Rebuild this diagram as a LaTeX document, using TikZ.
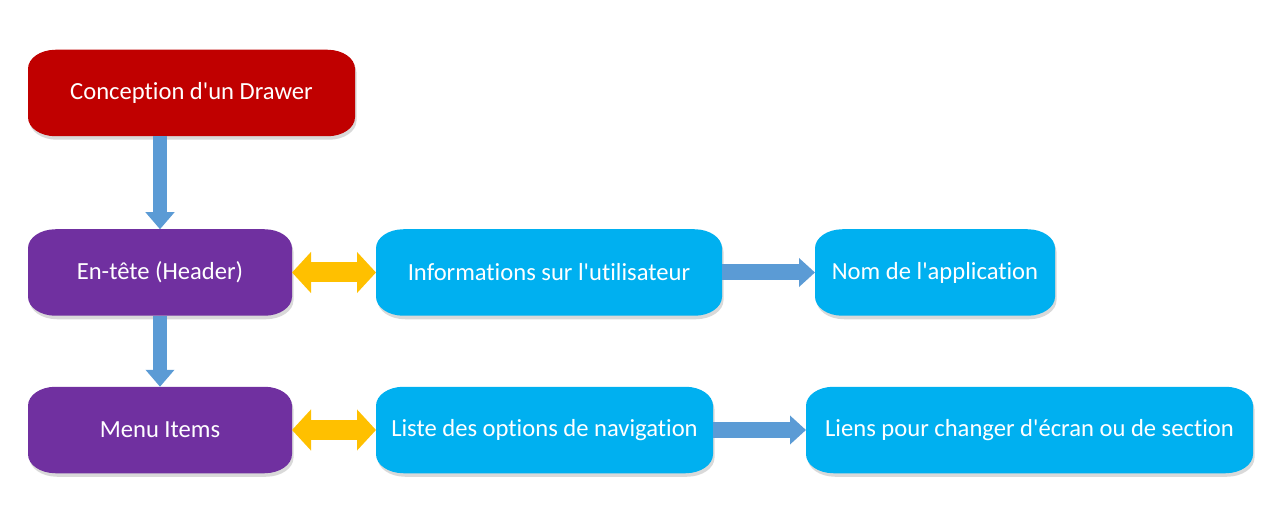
\documentclass[tikz,border=0pt]{standalone}
\usepackage{fontspec}
\setmainfont{Carlito}[Ligatures=NoCommon]
\usetikzlibrary{arrows.meta,backgrounds}

\definecolor{drawerred}{HTML}{C00000}
\definecolor{headpurple}{HTML}{7030A0}
\definecolor{infocyan}{HTML}{00B0F0}
\definecolor{linkblue}{HTML}{5B9BD5}
\definecolor{swapyellow}{HTML}{FFC000}

% box with elliptic corners, filled behind node #1
\newcommand{\bowbox}[2]{%
  \fill[#2] ([xshift=0.55cm]#1.north west) -- ([xshift=-0.55cm]#1.north east)
    arc[start angle=90,end angle=0,x radius=0.55cm,y radius=0.38cm]
    -- ([yshift=0.38cm]#1.south east)
    arc[start angle=0,end angle=-90,x radius=0.55cm,y radius=0.38cm]
    -- ([xshift=0.55cm]#1.south west)
    arc[start angle=270,end angle=180,x radius=0.55cm,y radius=0.38cm]
    -- ([yshift=-0.38cm]#1.north west)
    arc[start angle=180,end angle=90,x radius=0.55cm,y radius=0.38cm] -- cycle;}
\newcommand{\q}{\textquotesingle}

\tikzset{
  box/.style={inner sep=0pt, outer sep=0pt, minimum height=1.73cm,
    text=white, font=\fontsize{14}{16.8}\selectfont},
  downarrow/.style={linkblue, line width=0.28cm,
    -{Triangle[width=0.56cm,length=0.34cm]}},
  nextarrow/.style={linkblue, line width=0.32cm,
    -{Triangle[width=0.56cm,length=0.32cm]}},
  swaparrow/.style={swapyellow, line width=0.4cm,
    {Triangle[width=0.8cm,length=0.38cm]}-{Triangle[width=0.8cm,length=0.38cm]}}
}

\begin{document}
\begin{tikzpicture}
    \useasboundingbox (0,0) rectangle (25.6,-10.6);

    \node[box, minimum width=6.54cm] (drawer) at (3.83,-1.86) {Conception d\q un Drawer};
    \node[box, minimum width=5.28cm] (header) at (3.2,-5.45) {En-tête (Header)};
    \node[box, minimum width=6.92cm] (userinfo) at (10.98,-5.45) {Informations sur l\q utilisateur};
    \node[box, minimum width=4.8cm] (appname) at (18.7,-5.45) {Nom de l\q application};
    \node[box, minimum width=5.28cm] (menu) at (3.2,-8.6) {Menu Items};
    \node[box, minimum width=6.74cm] (navlist) at (10.89,-8.6) {Liste des options de navigation};
    \node[box, minimum width=8.94cm] (links) at (20.59,-8.6) {Liens pour changer d\q écran ou de section};

    \begin{pgfonlayer}{background}
        \begin{scope}[transform canvas={shift={(0.03,-0.07)}}]
            \foreach \b in {drawer,header,userinfo,appname,menu,navlist,links}
                \bowbox{\b}{black!15};
        \end{scope}
        \bowbox{drawer}{drawerred}
        \bowbox{header}{headpurple}
        \bowbox{menu}{headpurple}
        \bowbox{userinfo}{infocyan}
        \bowbox{appname}{infocyan}
        \bowbox{navlist}{infocyan}
        \bowbox{links}{infocyan}
    \end{pgfonlayer}

    \draw[downarrow] (header.north |- drawer.south) -- (header.north);
    \draw[downarrow] (header.south) -- (menu.north);
    \draw[swaparrow] (header.east) -- (userinfo.west);
    \draw[swaparrow] (menu.east) -- (navlist.west);
    \draw[nextarrow] (userinfo.east) -- (appname.west);
    \draw[nextarrow] (navlist.east) -- (links.west);
\end{tikzpicture}
\end{document}
